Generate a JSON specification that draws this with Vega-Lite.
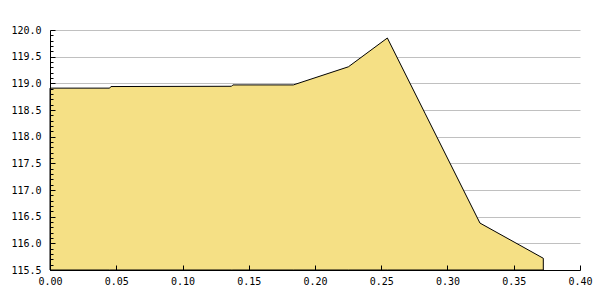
{
  "$schema": "https://vega.github.io/schema/vega-lite/v6.json",
  "width": 530,
  "height": 240,
  "autosize": {"type": "none"},
  "padding": {"left": 50, "top": 30, "right": 20, "bottom": 30},
  "background": "white",
  "config": {
    "view": {"stroke": null},
    "axis": {
      "labelFont": "DejaVu Sans Mono",
      "labelFontSize": 10,
      "labelColor": "black",
      "domainColor": "black",
      "domainWidth": 1,
      "tickColor": "black",
      "tickWidth": 1,
      "title": null,
      "labelOverlap": false,
      "labelBound": false,
      "labelFlush": false
    }
  },
  "data": {
    "values": [
      {"x": 0.0, "y": 118.91, "base": 115.5},
      {"x": 0.045, "y": 118.91, "base": 115.5},
      {"x": 0.046, "y": 118.94, "base": 115.5},
      {"x": 0.137, "y": 118.945, "base": 115.5},
      {"x": 0.138, "y": 118.97, "base": 115.5},
      {"x": 0.1836, "y": 118.97, "base": 115.5},
      {"x": 0.2252, "y": 119.31, "base": 115.5},
      {"x": 0.2546, "y": 119.85, "base": 115.5},
      {"x": 0.283, "y": 118.44, "base": 115.5},
      {"x": 0.3245, "y": 116.38, "base": 115.5},
      {"x": 0.3723, "y": 115.72, "base": 115.5}
    ]
  },
  "layer": [
    {
      "mark": {"type": "point", "opacity": 0},
      "encoding": {
        "x": {"field": "x", "type": "quantitative", "scale": {"domain": [0, 0.4], "nice": false, "zero": false}},
        "y": {
          "field": "y", "type": "quantitative",
          "scale": {"domain": [115.5, 120], "nice": false, "zero": false},
          "axis": {
            "orient": "left",
            "values": [115.5, 116, 116.5, 117, 117.5, 118, 118.5, 119, 119.5, 120],
            "labels": false,
            "domain": false,
            "ticks": false,
            "grid": true,
            "gridColor": "#c0c0c0",
            "gridWidth": 1,
            "zindex": 0
          }
        }
      }
    },
    {
      "mark": {"type": "area", "color": "#F5E085", "stroke": "black", "strokeWidth": 1, "fillOpacity": 1},
      "encoding": {
        "x": {
          "field": "x", "type": "quantitative",
          "axis": {
            "values": [0, 0.05, 0.1, 0.15, 0.2, 0.25, 0.3, 0.35, 0.4],
            "format": ".2f",
            "grid": false,
            "tickSize": -5,
            "labelPadding": 11,
            "zindex": 1
          }
        },
        "y": {
          "field": "y", "type": "quantitative",
          "axis": {
            "orient": "left",
            "values": [115.5, 116, 116.5, 117, 117.5, 118, 118.5, 119, 119.5, 120],
            "format": ".1f",
            "grid": false,
            "tickSize": -5,
            "labelPadding": 14,
            "zindex": 1
          }
        },
        "y2": {"field": "base"}
      }
    },
    {
      "mark": {"type": "point", "opacity": 0},
      "encoding": {
        "x": {"field": "x", "type": "quantitative"},
        "y": {
          "field": "y", "type": "quantitative",
          "axis": {
            "orient": "left",
            "values": [115.6, 115.7, 115.8, 115.9, 116.1, 116.2, 116.3, 116.4, 116.6, 116.7, 116.8, 116.9, 117.1, 117.2, 117.3, 117.4, 117.6, 117.7, 117.8, 117.9, 118.1, 118.2, 118.3, 118.4, 118.6, 118.7, 118.8, 118.9, 119.1, 119.2, 119.3, 119.4, 119.6, 119.7, 119.8, 119.9],
            "labels": false,
            "domain": false,
            "grid": false,
            "tickSize": -3,
            "zindex": 1
          }
        }
      }
    }
  ],
  "resolve": {"axis": {"y": "independent"}}
}
